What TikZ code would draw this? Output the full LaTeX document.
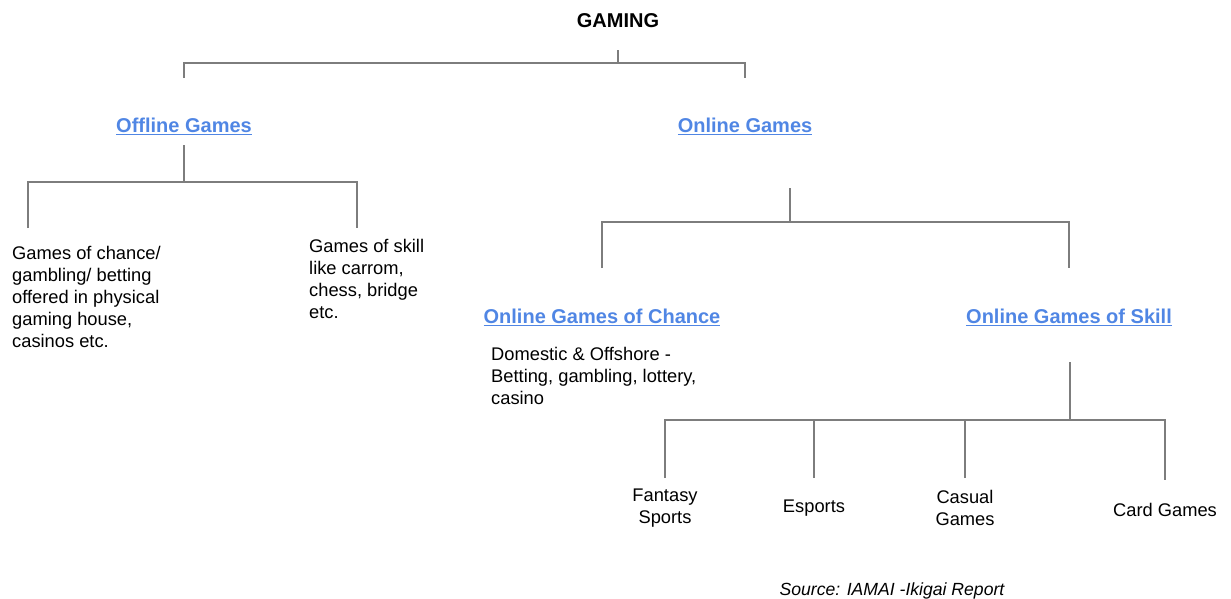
\documentclass[tikz,border=0pt]{standalone}
\usepackage{fontspec}
\setmainfont{Liberation Sans}
\usepackage{tikz}
\definecolor{linkblue}{RGB}{80,134,228}
\definecolor{linegray}{RGB}{125,125,125}

\begin{document}
\begin{tikzpicture}
  [x=1pt,y=-1pt,every node/.style={inner sep=0pt,font=\fontsize{18.3}{22}\selectfont},
   head/.style={font=\fontsize{20}{22}\selectfont\bfseries,text=linkblue},
   desc/.style={anchor=north west,align=left},
   leaf/.style={align=center},
   link/.style={draw=linegray,line width=1.3pt}]
  \useasboundingbox (0,0) rectangle (1231,598);
  \node[font=\fontsize{20}{22}\selectfont\bfseries] (gaming) at (618,21) {GAMING};
  \node[head] (offline) at (184,126) {\underline{Offline Games}};
  \node[head] (online) at (745,126) {\underline{Online Games}};
  \node[desc] (chance) at (12,246) {Games of chance/\\gambling/ betting\\offered in physical\\gaming house,\\casinos etc.};
  \node[desc] (skill) at (309,239) {Games of skill\\like carrom,\\chess, bridge\\etc.};
  \node[head] (ochance) at (602,317) {\underline{Online Games of Chance}};
  \node[head] (oskill) at (1069,317) {\underline{Online Games of Skill}};
  \node[desc] (domestic) at (491,347) {Domestic \& Offshore -\\Betting, gambling, lottery,\\casino};
  \node[leaf] (fantasy) at (665,508) {Fantasy\\Sports};
  \node[leaf] (esports) at (814,508) {Esports};
  \node[leaf] (casual) at (965,508) {Casual\\Games};
  \node[leaf] (card) at (1165,510) {Card Games};
  \node[font=\fontsize{17.6}{20}\selectfont\itshape] (source) at (892,591) {Source: IAMAI -Ikigai Report};
  % joints of the tree
  \coordinate (g1) at (618,50);
  \coordinate (g2) at (618,63);
  \coordinate (off1) at (184,78);
  \coordinate (on1) at (745,78);
  \coordinate (off2) at (184,145);
  \coordinate (off3) at (184,182);
  \coordinate (cha1) at (28,228);
  \coordinate (ski1) at (357,228);
  \coordinate (on2) at (790,188);
  \coordinate (on3) at (790,222);
  \coordinate (och1) at (602,268);
  \coordinate (osk1) at (1069,268);
  \coordinate (osk2) at (1070,362);
  \coordinate (osk3) at (1070,420);
  \coordinate (fan1) at (665,478);
  \coordinate (esp1) at (814,478);
  \coordinate (cas1) at (965,478);
  \coordinate (car1) at (1165,480);
  \foreach \from/\to in {g1/g2,off2/off3,on2/on3,osk2/osk3}
    \draw[link] (\from) -- (\to);
  \draw[link] (off1) |- (g2) -| (on1);
  \draw[link] (cha1) |- (off3) -| (ski1);
  \draw[link] (och1) |- (on3) -| (osk1);
  \draw[link] (fan1) |- (osk3) -| (car1);
  \foreach \leaf in {esp1,cas1}
    \draw[link] (\leaf) -- (\leaf |- osk3);
\end{tikzpicture}
\end{document}
